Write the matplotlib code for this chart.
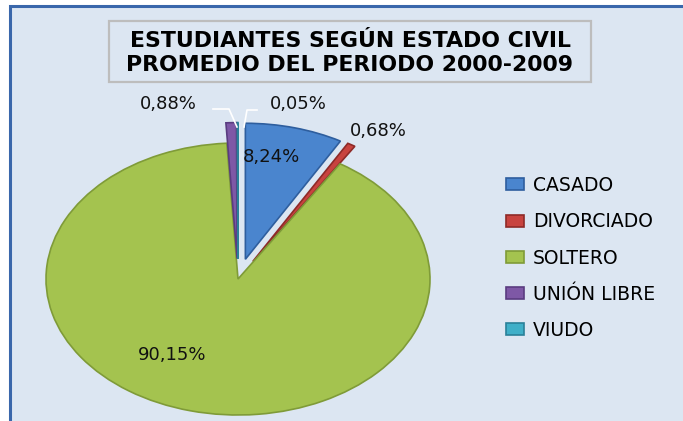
import matplotlib.pyplot as plt
from matplotlib.patches import Rectangle
from matplotlib.lines import Line2D

# data
categories = ['CASADO', 'DIVORCIADO', 'SOLTERO', 'UNIÓN LIBRE', 'VIUDO']
shares = [8.24, 0.68, 90.15, 0.88, 0.05]
pct_labels = ['8,24%', '0,68%', '90,15%', '0,88%', '0,05%']
title = 'ESTUDIANTES SEGÚN ESTADO CIVIL\nPROMEDIO DEL PERIODO 2000-2009'

# styling
colors = ['#4A85CE', '#C8433F', '#A4C34F', '#7E58A6', '#3FAFC8']
edge_colors = ['#2E5E9E', '#8E2A28', '#7F9B38', '#5A3C80', '#2A8099']
explode = [0.15, 0.15, 0.0, 0.15, 0.15]
bg = '#DCE6F2'

W, H = 683, 421
fig = plt.figure(figsize=(W / 100, H / 100), dpi=100)
fig.patch.set_facecolor('white')


def fx(px):
    return px / W


def fy(py):
    return 1 - py / H


# chart area with blue frame (right / bottom run off the picture)
fig.add_artist(Rectangle((fx(10), -0.1), 1.2, fy(6) + 0.1, transform=fig.transFigure,
                         fc=bg, ec='#3A67AB', lw=2.2, zorder=0))

# -------------------------------
# pie (stretched ellipse, Excel style)
# -------------------------------
cx, cy, rx, ry = 238, 279, 192, 136
ax = fig.add_axes([0, 0, 1, 1])
wedges, _ = ax.pie(shares, explode=explode, colors=colors, startangle=90,
                   counterclock=False, wedgeprops=dict(linewidth=1.2))
for w, ec in zip(wedges, edge_colors):
    w.set_edgecolor(ec)
ax.set_xlim(-cx / rx, (W - cx) / rx)
ax.set_ylim(-(H - cy) / ry, cy / ry)
ax.set_aspect('auto')
ax.axis('off')
ax.patch.set_alpha(0)

# data labels (pixel positions)
label_pos = [(271, 157), (378, 131), (172, 355), (168, 104), (298, 104)]
for txt, (px, py) in zip(pct_labels, label_pos):
    fig.text(fx(px), fy(py), txt, ha='center', va='center',
             fontsize=13, family='DejaVu Sans', color='#111111')

# leader lines for the thin slices
fig.add_artist(Line2D([fx(213), fx(229), fx(237)], [fy(109), fy(109), fy(127)],
                      transform=fig.transFigure, color='white', lw=1.2))
fig.add_artist(Line2D([fx(257), fx(247), fx(244)], [fy(110), fy(110), fy(127)],
                      transform=fig.transFigure, color='white', lw=1.2))

# title box
fig.add_artist(Rectangle((fx(109), fy(82)), fx(591) - fx(109), (82 - 21) / H,
                         transform=fig.transFigure, fc='none', ec='#BDBDBD', lw=1.6))
fig.text(fx(350), fy(53), title, ha='center', va='center', family='DejaVu Sans',
         fontweight='bold', fontsize=15.8, linespacing=1.25, color='black')

# legend
fig.legend(wedges, categories, loc='upper left', bbox_to_anchor=(fx(506), fy(176)),
           frameon=False, prop=dict(family='DejaVu Sans', size=13.5),
           handlelength=0.95, handleheight=0.6, handletextpad=0.5,
           labelspacing=0.92, borderaxespad=0, borderpad=0)

fig.savefig('out.png', dpi=100, facecolor='white')
